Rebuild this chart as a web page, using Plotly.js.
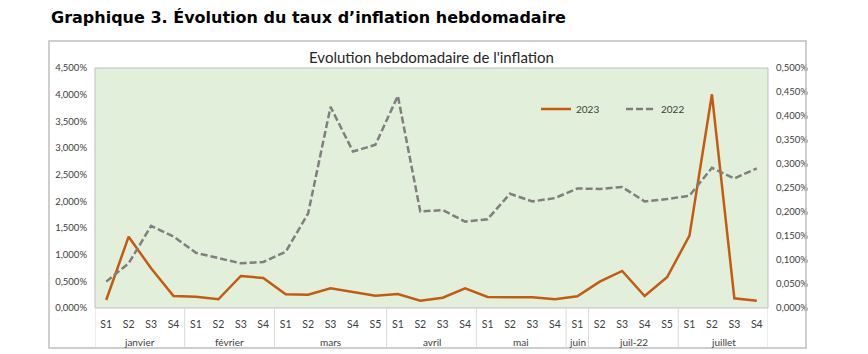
<!DOCTYPE html>
<html>
<head>
<meta charset="utf-8">
<script src="https://cdn.plot.ly/plotly-3.0.1.min.js"></script>
<style>html,body{margin:0;padding:0;background:#fff;}#chart{width:868px;height:354px;}</style>
</head>
<body>
<div id="chart"></div>
<script>
// Categories (two-level x axis)
const months = ["janvier","janvier","janvier","janvier",
  "février","février","février","février",
  "mars","mars","mars","mars","mars",
  "avril","avril","avril","avril",
  "mai","mai","mai","mai",
  "juin",
  "juil-22","juil-22","juil-22","juil-22",
  "juillet","juillet","juillet","juillet"];
const weeks = ["S1","S2","S3","S4",
  "S1","S2","S3","S4",
  "S1","S2","S3","S4","S5",
  "S1","S2","S3","S4",
  "S1","S2","S3","S4",
  "S1",
  "S2","S3","S4","S5",
  "S1","S2","S3","S4"];
// Series values (in %)
const y2023 = [0.150, 1.337, 0.744, 0.225,
  0.212, 0.163, 0.600, 0.563,
  0.257, 0.249, 0.369, 0.294, 0.231,
  0.263, 0.137, 0.193, 0.369,
  0.206, 0.200, 0.200, 0.163,
  0.219,
  0.493, 0.694, 0.225, 0.576,
  1.356, 4.007, 0.182, 0.137];   // left axis
const y2022 = [0.055, 0.093, 0.171, 0.149,
  0.115, 0.104, 0.093, 0.096,
  0.117, 0.197, 0.419, 0.326, 0.340,
  0.442, 0.201, 0.204, 0.180,
  0.185, 0.238, 0.222, 0.229,
  0.249,
  0.248, 0.252, 0.222, 0.227,
  0.234, 0.292, 0.270, 0.291];   // right axis
const leftTicks = [0,0.5,1,1.5,2,2.5,3,3.5,4,4.5];
const leftLabels = ["0,000%","0,500%","1,000%","1,500%","2,000%","2,500%","3,000%","3,500%","4,000%","4,500%"];
const rightTicks = [0,0.05,0.1,0.15,0.2,0.25,0.3,0.35,0.4,0.45,0.5];
const rightLabels = ["0,000%","0,050%","0,100%","0,150%","0,200%","0,250%","0,300%","0,350%","0,400%","0,450%","0,500%"];

const FONT = "Lato, 'Open Sans', sans-serif";
const idx = weeks.map((_, i) => i);

const traces = [
  {x: idx, y: y2022, name: "2022", type: "scatter", mode: "lines", yaxis: "y2",
   line: {color: "#7F7F7F", width: 2.5, dash: "7px,3px"}},
  {x: idx, y: y2023, name: "2023", type: "scatter", mode: "lines", yaxis: "y",
   line: {color: "#C55A11", width: 2.5}}
];

// plot area: x 95..768, y 68..308
const PL = 95, PR = 768, PT = 68, PB = 308;
const px = v => (v - PL) / (PR - PL);
const py = v => (PB - v) / (PB - PT);

// month groups -> label annotations + divider shapes
const groups = [];
months.forEach((m, i) => {
  if (!groups.length || groups[groups.length - 1].name !== m) groups.push({name: m, start: i, end: i});
  else groups[groups.length - 1].end = i;
});
const monthAnn = groups.map(g => ({
  text: g.name, xref: "x", yref: "paper", x: (g.start + g.end) / 2, y: py(342),
  xanchor: "center", yanchor: "middle", showarrow: false,
  font: {family: FONT, size: 10, color: "#404040"}
}));
const dividers = groups.map(g => g.start - 0.5).concat([groups[groups.length - 1].end + 0.5]).map(b => ({
  type: "line", xref: "x", yref: "paper", x0: b, x1: b, y0: py(308), y1: py(348),
  line: {color: "#D9D9D9", width: 1}
}));

const layout = {
  width: 868, height: 354,
  margin: {l: PL, r: 868 - PR, t: PT, b: 354 - PB, pad: 0},
  paper_bgcolor: "#ffffff",
  plot_bgcolor: "#E2EFDA",
  font: {family: FONT, size: 10, color: "#404040"},
  title: {text: "Evolution hebdomadaire de l'inflation", font: {family: FONT, size: 15, color: "#262626"},
    x: 0.5, xref: "paper", xanchor: "center", y: 1 - 58/354, yref: "container", yanchor: "middle"},
  showlegend: true,
  legend: {orientation: "h", traceorder: "reversed", x: px(536), y: py(109), xanchor: "left", yanchor: "middle",
    bgcolor: "rgba(0,0,0,0)", font: {family: FONT, size: 10, color: "#404040"}, itemwidth: 30,
    entrywidth: 40, entrywidthmode: "pixels"},
  xaxis: {range: [-0.5, weeks.length - 0.5], tickvals: idx, ticktext: weeks,
    showgrid: false, zeroline: false, showline: false, ticks: "", ticklabelstandoff: 8,
    tickfont: {family: FONT, size: 10.5, color: "#404040"}},
  yaxis: {range: [0, 4.5], tickvals: leftTicks, ticktext: leftLabels,
    showgrid: false, zeroline: false, showline: false, ticks: "", ticklabelstandoff: 7,
    tickfont: {family: FONT, size: 9.5, color: "#404040"}},
  yaxis2: {range: [0, 0.5], tickvals: rightTicks, ticktext: rightLabels,
    overlaying: "y", side: "right", showgrid: false, zeroline: false, showline: false, ticks: "",
    ticklabelstandoff: 7, tickfont: {family: FONT, size: 9.5, color: "#404040"}},
  shapes: [
    {type: "rect", xref: "paper", yref: "paper", x0: 0, x1: 1, y0: 0, y1: 1,
     line: {color: "#BFBFBF", width: 1}, fillcolor: "rgba(0,0,0,0)", layer: "above"},
    {type: "rect", xref: "paper", yref: "paper", x0: px(49), x1: px(806), y0: py(348), y1: py(41),
     line: {color: "#BFBFBF", width: 1.5}, fillcolor: "rgba(0,0,0,0)"}
  ].concat(dividers),
  annotations: [
    {text: "<b>Graphique 3. Évolution du taux d’inflation hebdomadaire</b>", xref: "paper", yref: "paper",
     x: px(49), y: py(17), xanchor: "left", yanchor: "middle", showarrow: false,
     font: {family: "'DejaVu Sans', Verdana, sans-serif", size: 16, color: "#000000"}}
  ].concat(monthAnn)
};

Plotly.newPlot("chart", traces, layout, {displayModeBar: false, staticPlot: true});
</script>
</body>
</html>
